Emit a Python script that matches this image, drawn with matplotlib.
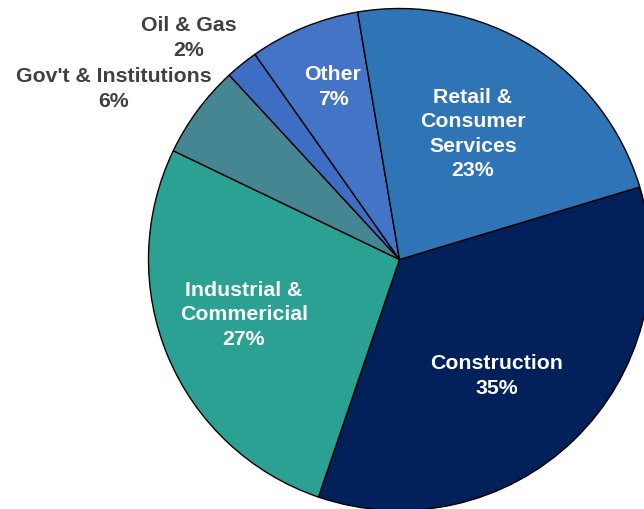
import matplotlib
matplotlib.use("Agg")
import matplotlib.pyplot as plt

# Data (clockwise from the Retail/Construction boundary)
categories = ["Construction", "Industrial &\nCommericial", "Gov't & Institutions",
              "Oil & Gas", "Other", "Retail &\nConsumer\nServices"]
values = [34.9, 26.9, 6.0, 2.1, 7.1, 23.0]
pct_labels = ["35%", "27%", "6%", "2%", "7%", "23%"]
colors = ["#02205A", "#2BA193", "#458692", "#3E6DC4", "#4474C6", "#2F74B5"]
inside = [True, True, False, False, True, True]

W, H = 644, 509
fig = plt.figure(figsize=(W / 100, H / 100), dpi=100)
ax = fig.add_axes([0, 0, 1, 1])
ax.set_xlim(0, W)
ax.set_ylim(0, H)
ax.set_aspect("equal")
ax.axis("off")

cx, cy, r = 399.5, H - 259.5, 251
wedges, _ = ax.pie(values, colors=colors, startangle=16.8, counterclock=False,
                   center=(cx, cy), radius=r, frame=True,
                   wedgeprops=dict(edgecolor="black", linewidth=1.0))
ax.set_xlim(0, W)
ax.set_ylim(0, H)
ax.axis("off")

# label positions in pixel coords (top-left origin)
label_pos = [(497, 376), (244, 315), (114, 89), (189, 38), (333, 87), (473, 134)]
font = ["Liberation Sans", "Arial", "DejaVu Sans"]
for cat, pct, (x, y), ins in zip(categories, pct_labels, label_pos, inside):
    ax.text(x, H - y, f"{cat}\n{pct}", ha="center", va="center",
            fontsize=15.3, fontweight="bold", family=font,
            color="white" if ins else "#404040", linespacing=1.34)

fig.savefig("out.png", dpi=100)
